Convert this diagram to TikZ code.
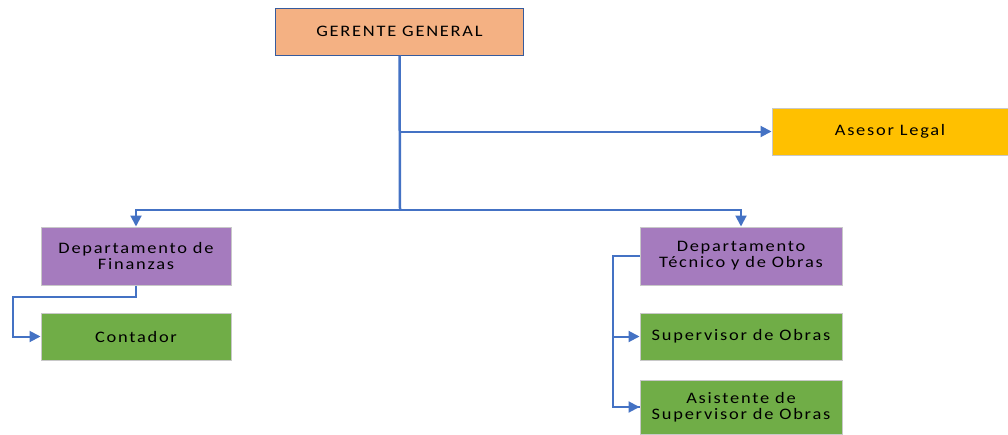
\documentclass[tikz,border=0pt]{standalone}
\usepackage{fontspec}
\setmainfont{Carlito}[FakeStretch=1.15,LetterSpace=11]
\usetikzlibrary{arrows.meta}
\definecolor{lineblue}{HTML}{4472C4}
\definecolor{salmon}{HTML}{F4B183}
\definecolor{gold}{HTML}{FFC000}
\definecolor{purp}{HTML}{A57BBE}
\definecolor{grn}{HTML}{70AD47}
\definecolor{edge}{HTML}{C8C8C8}
\tikzset{
  box/.style={draw=edge, line width=1pt, align=center, inner sep=2pt, font=\fontsize{16}{16}\selectfont, text=black},
  conn/.style={draw=lineblue, line width=2pt},
  arr/.style={conn, -{Triangle[length=11pt,width=11pt]}},
}
\begin{document}
\begin{tikzpicture}[x=1pt,y=-1pt]
\useasboundingbox (0,0) rectangle (1008,434);
\node[box, fill=salmon, draw=lineblue!80!black, minimum width=248pt, minimum height=47pt] (ger) at (399.5,31.5) {GERENTE GENERAL};
\node[box, fill=gold, minimum width=236pt, minimum height=47pt] (ase) at (890,131.5) {Asesor Legal};
\node[box, fill=purp, minimum width=190pt, minimum height=58pt] (fin) at (136,256) {Departamento de\\Finanzas};
\node[box, fill=grn, minimum width=190pt, minimum height=47pt] (con) at (136,336.5) {Contador};
\node[box, fill=purp, minimum width=202pt, minimum height=58pt] (tec) at (741,256) {Departamento\\Técnico y de Obras};
\node[box, fill=grn, minimum width=202pt, minimum height=47pt] (sup) at (741,336.5) {Supervisor de Obras};
\node[box, fill=grn, minimum width=202pt, minimum height=54pt] (asi) at (741,407) {Asistente de\\Supervisor de Obras};
\coordinate (j1) at (400,131.5);
\coordinate (j2) at (400,210);
\coordinate (c1) at (13,297);
\coordinate (c2) at (613,256);
\draw[conn, line width=2.5pt] (ger.south) -- (j2);
\draw[arr] (j1) -- (ase.west);
\draw[arr] (j2) -| (fin.north);
\draw[arr] (j2) -| (tec.north);
\draw[arr] (fin.south) |- (c1) |- (con.west);
\draw[conn] (tec.west) -- (c2) |- (asi.west);
\draw[arr] (c2) |- (sup.west);
\draw[arr] (c2) |- (asi.west);
\end{tikzpicture}
\end{document}
